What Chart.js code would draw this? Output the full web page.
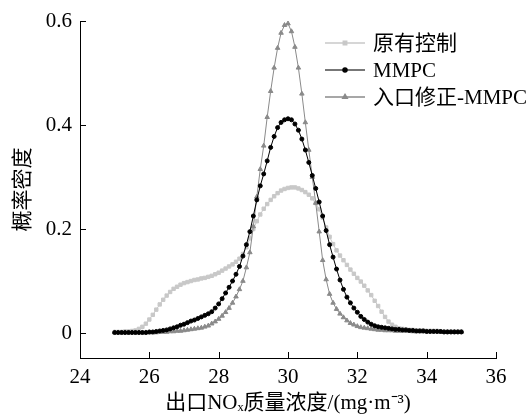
<!DOCTYPE html>
<html>
<head>
<meta charset="utf-8">
<script src="https://cdn.jsdelivr.net/npm/chart.js@4/dist/chart.umd.min.js"></script>
<style>
  html, body { margin: 0; padding: 0; background: #fff; }
  #wrap { width: 530px; height: 414px; position: relative; }
</style>
</head>
<body>
<div id="wrap"><canvas id="chart"></canvas></div>
<script>
  "use strict";

  // ── Data ──────────────────────────────────────────────────────────

  const xValues = [
    25.0, 25.1, 25.2, 25.3, 25.4, 25.5, 25.6, 25.7, 25.8, 25.9,
    26.0, 26.1, 26.2, 26.3, 26.4, 26.5, 26.6, 26.7, 26.8, 26.9,
    27.0, 27.1, 27.2, 27.3, 27.4, 27.5, 27.6, 27.7, 27.8, 27.9,
    28.0, 28.1, 28.2, 28.3, 28.4, 28.5, 28.6, 28.7, 28.8, 28.9,
    29.0, 29.1, 29.2, 29.3, 29.4, 29.5, 29.6, 29.7, 29.8, 29.9,
    30.0, 30.1, 30.2, 30.3, 30.4, 30.5, 30.6, 30.7, 30.8, 30.9,
    31.0, 31.1, 31.2, 31.3, 31.4, 31.5, 31.6, 31.7, 31.8, 31.9,
    32.0, 32.1, 32.2, 32.3, 32.4, 32.5, 32.6, 32.7, 32.8, 32.9,
    33.0, 33.1, 33.2, 33.3, 33.4, 33.5, 33.6, 33.7, 33.8, 33.9,
    34.0, 34.1, 34.2, 34.3, 34.4, 34.5, 34.6, 34.7, 34.8, 34.9,
    35.0
  ];

  // 原有控制
  const originalValues = [
    0.002, 0.002, 0.002, 0.003, 0.003, 0.004, 0.005, 0.008, 0.012, 0.018,
    0.026, 0.035, 0.045, 0.055, 0.064, 0.072, 0.079, 0.085, 0.089, 0.093,
    0.096, 0.098, 0.100, 0.102, 0.103, 0.105, 0.106, 0.108, 0.110, 0.113,
    0.116, 0.120, 0.124, 0.128, 0.132, 0.137, 0.143, 0.152, 0.165, 0.182,
    0.200, 0.215, 0.228, 0.239, 0.248, 0.256, 0.263, 0.269, 0.274, 0.277,
    0.279, 0.280, 0.280, 0.278, 0.275, 0.271, 0.266, 0.259, 0.250, 0.238,
    0.222, 0.203, 0.185, 0.171, 0.159, 0.149, 0.140, 0.131, 0.122, 0.114,
    0.106, 0.099, 0.091, 0.082, 0.073, 0.062, 0.052, 0.041, 0.031, 0.022,
    0.016, 0.012, 0.009, 0.008, 0.007, 0.006, 0.006, 0.005, 0.005, 0.005,
    0.004, 0.004, 0.004, 0.004, 0.003, 0.003, 0.003, 0.003, 0.003, 0.003,
    0.003
  ];

  // MMPC
  const mmpcValues = [
    0.001, 0.001, 0.001, 0.001, 0.001, 0.001, 0.001, 0.001, 0.001, 0.001,
    0.002, 0.002, 0.003, 0.004, 0.005, 0.006, 0.008, 0.010, 0.012, 0.015,
    0.017, 0.020, 0.023, 0.025, 0.028, 0.031, 0.034, 0.037, 0.041, 0.048,
    0.056, 0.066, 0.077, 0.088, 0.100, 0.113, 0.128, 0.148, 0.170, 0.195,
    0.225, 0.256, 0.283, 0.306, 0.331, 0.357, 0.378, 0.395, 0.405, 0.410,
    0.412, 0.410, 0.402, 0.390, 0.373, 0.352, 0.328, 0.303, 0.278, 0.252,
    0.225, 0.197, 0.170, 0.146, 0.123, 0.102, 0.084, 0.069, 0.058, 0.048,
    0.040, 0.032, 0.026, 0.021, 0.017, 0.014, 0.012, 0.011, 0.010, 0.009,
    0.008, 0.007, 0.007, 0.006, 0.006, 0.005, 0.005, 0.004, 0.004, 0.004,
    0.003, 0.003, 0.003, 0.003, 0.003, 0.002, 0.002, 0.002, 0.002, 0.002,
    0.002
  ];

  // 入口修正-MMPC
  const inletValues = [
    0.001, 0.001, 0.001, 0.001, 0.001, 0.001, 0.001, 0.001, 0.001, 0.001,
    0.001, 0.001, 0.001, 0.002, 0.002, 0.002, 0.003, 0.003, 0.004, 0.004,
    0.005, 0.006, 0.007, 0.008, 0.009, 0.010, 0.012, 0.014, 0.018, 0.022,
    0.027, 0.033, 0.040, 0.048, 0.058, 0.070, 0.084, 0.100, 0.126, 0.155,
    0.205, 0.262, 0.315, 0.360, 0.415, 0.465, 0.510, 0.548, 0.577, 0.592,
    0.595, 0.580, 0.550, 0.510, 0.460, 0.405, 0.352, 0.300, 0.250, 0.195,
    0.140, 0.103, 0.075, 0.058, 0.046, 0.037, 0.030, 0.024, 0.019, 0.016,
    0.013, 0.011, 0.010, 0.009, 0.008, 0.007, 0.006, 0.006, 0.005, 0.005,
    0.005, 0.004, 0.004, 0.004, 0.004, 0.004, 0.003, 0.003, 0.003, 0.003,
    0.003, 0.003, 0.003, 0.003, 0.002, 0.002, 0.002, 0.002, 0.002, 0.002,
    0.002
  ];

  const seriesNames = ["原有控制", "MMPC", "入口修正-MMPC"];
  const xTicks = [24, 26, 28, 30, 32, 34, 36];
  const yTicks = [0, 0.2, 0.4, 0.6];

  const FONT = '"Liberation Serif", "Times New Roman", "Noto Sans CJK SC", serif';
  const COLORS = {
    original: "#c8c8c8",
    mmpc: "#000000",
    mmpcLegend: "#4a4a4a",
    inlet: "#8a8a8a",
  };

  function toPoints(values) {
    return values.map(function (v, i) { return { x: xValues[i], y: v }; });
  }

  // ── Plugins: inward ticks + legend with line and marker ──────────

  const innerTicks = {
    id: "innerTicks",
    afterDraw: function (chart) {
      const ctx = chart.ctx;
      const xs = chart.scales.x;
      const ys = chart.scales.y;
      const area = chart.chartArea;
      ctx.save();
      ctx.strokeStyle = "#000";
      ctx.lineWidth = 1;
      ctx.beginPath();
      yTicks.forEach(function (v) {
        const py = Math.round(ys.getPixelForValue(v)) + 0.5;
        ctx.moveTo(area.left, py);
        ctx.lineTo(area.left + 6, py);
      });
      xTicks.forEach(function (v) {
        if (v === xTicks[0]) return;
        const px = Math.round(xs.getPixelForValue(v)) + 0.5;
        ctx.moveTo(px, area.bottom);
        ctx.lineTo(px, area.bottom - 6);
      });
      ctx.stroke();
      ctx.restore();
    },
  };

  const lineLegend = {
    id: "lineLegend",
    afterDraw: function (chart) {
      const ctx = chart.ctx;
      const area = chart.chartArea;
      const x0 = area.right - 171;
      const y0 = area.top + 22;
      ctx.save();
      ctx.font = '21px ' + FONT;
      ctx.textBaseline = "middle";
      chart.data.datasets.forEach(function (ds) {
        const y = y0 + ds.legendRow * 27;
        ctx.strokeStyle = ds.legendLine;
        ctx.lineWidth = 1.5;
        ctx.beginPath();
        ctx.moveTo(x0, y);
        ctx.lineTo(x0 + 40, y);
        ctx.stroke();
        ctx.fillStyle = ds.pointBackgroundColor;
        ctx.strokeStyle = ds.pointBorderColor;
        Chart.helpers.drawPoint(ctx, {
          pointStyle: ds.pointStyle,
          radius: ds.pointRadius,
          rotation: 0,
          borderWidth: 1,
        }, x0 + 20, y);
        ctx.fillStyle = "#000";
        ctx.fillText(ds.label, x0 + 48, y + 1);
      });
      ctx.restore();
    },
  };

  // ── Chart ────────────────────────────────────────────────────────

  new Chart(document.getElementById("chart"), {
    type: "line",
    data: {
      datasets: [
        {
          label: seriesNames[1],
          data: toPoints(mmpcValues),
          borderColor: COLORS.mmpc,
          borderWidth: 1,
          pointStyle: "circle",
          pointRadius: 2,
          pointBackgroundColor: COLORS.mmpc,
          pointBorderColor: COLORS.mmpc,
          pointBorderWidth: 1,
          legendRow: 1,
          legendLine: COLORS.mmpcLegend,
          order: 1,
        },
        {
          label: seriesNames[2],
          data: toPoints(inletValues),
          borderColor: COLORS.inlet,
          borderWidth: 1,
          pointStyle: "triangle",
          pointRadius: 2.6,
          pointBackgroundColor: COLORS.inlet,
          pointBorderColor: COLORS.inlet,
          pointBorderWidth: 1,
          legendRow: 2,
          legendLine: COLORS.inlet,
          order: 2,
        },
        {
          label: seriesNames[0],
          data: toPoints(originalValues),
          borderColor: COLORS.original,
          borderWidth: 1,
          pointStyle: "rect",
          pointRadius: 2.4,
          pointBackgroundColor: COLORS.original,
          pointBorderColor: COLORS.original,
          pointBorderWidth: 1,
          legendRow: 0,
          legendLine: COLORS.original,
          order: 3,
        },
      ],
    },
    plugins: [innerTicks, lineLegend],
    options: {
      responsive: true,
      maintainAspectRatio: false,
      animation: false,
      devicePixelRatio: 1,
      layout: { padding: { top: 21, right: 34, left: 0, bottom: 0 } },
      plugins: {
        legend: { display: false },
        tooltip: { enabled: false },
      },
      scales: {
        x: {
          type: "linear",
          min: 24,
          max: 36,
          afterBuildTicks: function (scale) {
            scale.ticks = xTicks.map(function (v) { return { value: v }; });
          },
          afterFit: function (scale) { scale.height = 56; },
          grid: { display: false, drawTicks: false },
          border: { display: true, color: "#000", width: 1 },
          ticks: {
            color: "#000",
            padding: 7,
            maxRotation: 0,
            font: { family: FONT, size: 21 },
          },
          title: {
            display: true,
            text: "出口NOₓ质量浓度/(mg·m⁻³)",
            color: "#000",
            padding: { top: 0, bottom: 0 },
            font: { family: FONT, size: 21, lineHeight: 1 },
          },
        },
        y: {
          type: "linear",
          min: -0.048,
          max: 0.6,
          afterBuildTicks: function (scale) {
            scale.ticks = yTicks.map(function (v) { return { value: v }; });
          },
          afterFit: function (scale) { scale.width = 80; },
          grid: { display: false, drawTicks: false },
          border: { display: true, color: "#000", width: 1 },
          ticks: {
            color: "#000",
            padding: 8,
            font: { family: FONT, size: 21 },
            callback: function (v) { return v === 0 ? "0" : v.toFixed(1); },
          },
          title: {
            display: true,
            text: "概率密度",
            color: "#000",
            padding: { top: 13, bottom: 0 },
            font: { family: FONT, size: 21, lineHeight: 1 },
          },
        },
      },
    },
  });
</script>
</body>
</html>
